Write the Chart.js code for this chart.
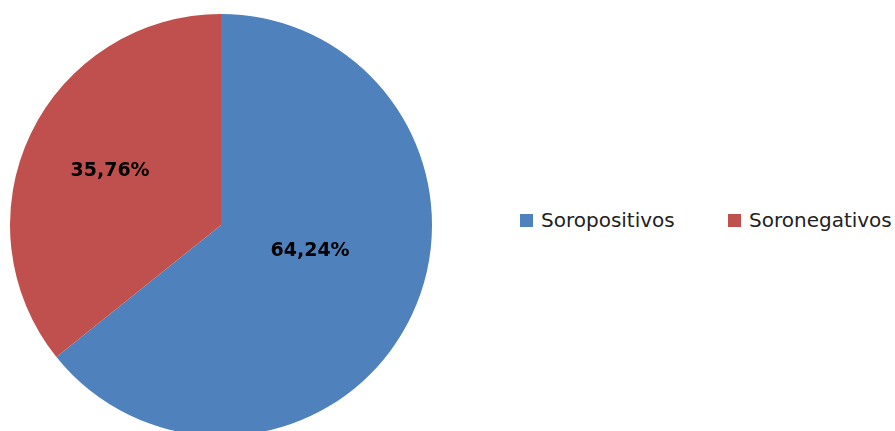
<!DOCTYPE html>
<html>
<head>
<meta charset="utf-8">
<script src="https://cdn.jsdelivr.net/npm/chart.js@4.4.1/dist/chart.umd.min.js"></script>
<style>
  html, body { margin: 0; padding: 0; background: #fff; overflow: hidden; width: 895px; height: 431px; }
  #wrap { position: absolute; left: 0; top: 0; width: 443px; height: 450px; }
  #legend { position: absolute; left: 520px; top: 207px; font-family: "DejaVu Sans", sans-serif; font-size: 20px; color: #222; }
  .item { position: absolute; top: 0; display: flex; align-items: center; height: 26px; white-space: nowrap; }
  .box { width: 13px; height: 13px; margin-right: 8px; }
</style>
</head>
<body>
<div id="wrap"><canvas id="pieChart"></canvas></div>
<div id="legend"></div>
<script>
// chart data
const categories = ["Soropositivos", "Soronegativos"];
const values = [64.24, 35.76];
const colors = ["#4F81BD", "#C0504D"];

// label placement inside the slices (fraction of radius, angle shift in degrees)
const labelDist = [0.44, 0.585];
const labelShift = [-9.3, 0.4];

function pctText(v) {
  return v.toFixed(2).replace(".", ",") + "%";
}

// Draw percentage labels on each slice
const sliceLabels = {
  id: "sliceLabels",
  afterDatasetsDraw(chart) {
    const ctx = chart.ctx;
    const meta = chart.getDatasetMeta(0);
    ctx.save();
    ctx.font = 'bold 19px "DejaVu Sans"';
    ctx.fillStyle = "#000";
    ctx.textAlign = "center";
    ctx.textBaseline = "middle";
    meta.data.forEach((arc, i) => {
      const p = arc.getProps(["x", "y", "startAngle", "endAngle", "outerRadius"], true);
      const mid = (p.startAngle + p.endAngle) / 2 + labelShift[i] * Math.PI / 180;
      const r = p.outerRadius * labelDist[i];
      ctx.fillText(pctText(values[i]), p.x + Math.cos(mid) * r, p.y + Math.sin(mid) * r);
    });
    ctx.restore();
  }
};

const ctx = document.getElementById("pieChart").getContext("2d");
const chart = new Chart(ctx, {
  type: "pie",
  data: {
    labels: categories,
    datasets: [{
      data: values,
      backgroundColor: colors,
      borderWidth: 0
    }]
  },
  options: {
    responsive: true,
    maintainAspectRatio: false,
    animation: false,
    layout: { padding: { left: 10, top: 14, right: 11, bottom: 14 } },
    plugins: {
      legend: { display: false },
      tooltip: { enabled: false }
    }
  },
  plugins: [sliceLabels]
});

// HTML legend
const legend = document.getElementById("legend");
const itemLeft = [0, 208];
categories.forEach((name, i) => {
  const item = document.createElement("div");
  item.className = "item";
  item.style.left = itemLeft[i] + "px";
  const box = document.createElement("span");
  box.className = "box";
  box.style.background = colors[i];
  const txt = document.createElement("span");
  txt.textContent = name;
  item.appendChild(box);
  item.appendChild(txt);
  legend.appendChild(item);
});
</script>
</body>
</html>
